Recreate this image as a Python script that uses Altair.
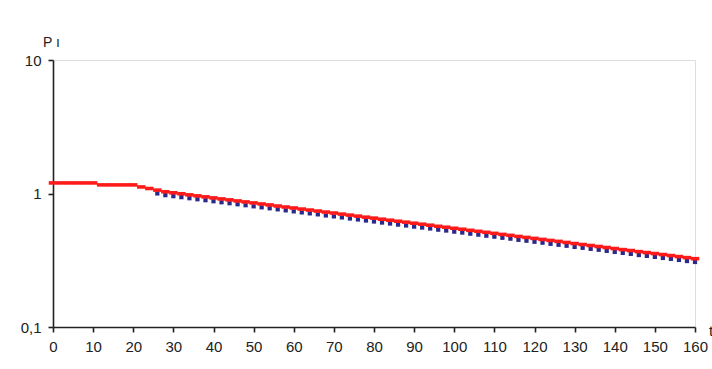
import altair as alt
import pandas as pd

# Red series (t, P)
red_t = list(range(0, 162, 2))
red_p = [1.20, 1.20, 1.20, 1.20, 1.20, 1.20, 1.16, 1.16, 1.16, 1.16, 1.16,
         1.12, 1.09, 1.06, 1.030, 1.012, 0.995, 0.977, 0.960, 0.944, 0.927,
         0.911, 0.896, 0.880, 0.865, 0.850, 0.835, 0.821, 0.806, 0.792, 0.779,
         0.765, 0.752, 0.739, 0.726, 0.714, 0.701, 0.689, 0.677, 0.665, 0.654,
         0.642, 0.631, 0.620, 0.610, 0.599, 0.589, 0.579, 0.568, 0.559, 0.549,
         0.540, 0.530, 0.521, 0.512, 0.503, 0.494, 0.486, 0.477, 0.469, 0.461,
         0.453, 0.445, 0.438, 0.430, 0.422, 0.415, 0.408, 0.401, 0.394, 0.387,
         0.380, 0.374, 0.367, 0.361, 0.355, 0.349, 0.343, 0.337, 0.331, 0.325]

# Blue series (t, P)
blue_t = list(range(26, 162, 2))
blue_p = [1.001, 0.972, 0.955, 0.939, 0.922, 0.906, 0.891, 0.875, 0.860, 0.846,
          0.831, 0.817, 0.802, 0.788, 0.775, 0.761, 0.748, 0.735, 0.722, 0.710,
          0.698, 0.685, 0.674, 0.662, 0.650, 0.639, 0.628, 0.617, 0.606, 0.596,
          0.585, 0.576, 0.565, 0.556, 0.547, 0.536, 0.528, 0.518, 0.510, 0.500,
          0.492, 0.483, 0.475, 0.466, 0.459, 0.450, 0.443, 0.435, 0.428, 0.420,
          0.413, 0.406, 0.398, 0.392, 0.385, 0.379, 0.372, 0.365, 0.359, 0.353,
          0.346, 0.341, 0.335, 0.329, 0.324, 0.318, 0.312, 0.307]

x_ticks = list(range(0, 170, 10))
y_ticks = [0.1, 1, 10]

red_df = pd.DataFrame({"t": red_t, "P": red_p})
blue_df = pd.DataFrame({"t": blue_t, "P": blue_p})

FONT = "Liberation Sans"

xscale = alt.Scale(domain=[0, 160], nice=False, zero=False)
yscale = alt.Scale(type="log", domain=[0.1, 10], nice=False)

xaxis = alt.Axis(values=x_ticks, title=None, grid=False, domain=True,
                 domainColor="#222222", domainWidth=1.6, tickColor="#222222",
                 tickWidth=1.6, tickSize=5, labelFont=FONT, labelFontSize=15,
                 labelColor="#222222", labelPadding=7, labelFlush=False)
yaxis = alt.Axis(values=y_ticks, title=None, grid=False, domain=True,
                 domainColor="#222222", domainWidth=1.6, tickColor="#222222",
                 tickWidth=1.6, tickSize=5, labelFont=FONT, labelFontSize=15,
                 labelColor="#222222", labelPadding=7,
                 labelExpr="datum.value == 0.1 ? '0,1' : datum.value == 1 ? '1' : '10'")

blue = alt.Chart(blue_df).mark_point(
    shape="square", filled=True, size=18, color="#2a2a8a", opacity=1
).encode(
    x=alt.X("t:Q", scale=xscale, axis=xaxis),
    y=alt.Y("P:Q", scale=yscale, axis=yaxis),
)

red = alt.Chart(red_df).mark_point(
    shape="M -1 -0.42 L 1 -0.42 L 1 0.42 L -1 0.42 Z", filled=True, size=72,
    color="#ff1a1a", opacity=1
).encode(
    x=alt.X("t:Q", scale=xscale, axis=xaxis),
    y=alt.Y("P:Q", scale=yscale, axis=yaxis),
)

ylabel = alt.Chart(pd.DataFrame({"s": ["P ı"]})).mark_text(
    font=FONT, fontSize=14, color="#222222", align="left", baseline="middle"
).encode(x=alt.value(-10), y=alt.value(-17), text="s:N")

xlabel = alt.Chart(pd.DataFrame({"s": ["t"]})).mark_text(
    font=FONT, fontSize=15, color="#222222", align="left", baseline="middle"
).encode(x=alt.value(656), y=alt.value(271), text="s:N")

chart = alt.layer(blue, red, ylabel, xlabel).properties(
    width=642, height=267,
    autosize=alt.AutoSizeParams(type="none"),
    padding={"left": 53, "top": 60, "right": 17, "bottom": 42},
).configure_view(stroke=None).configure(background="white")

chart.save("out.html", embed_options={"renderer": "svg", "actions": False})
